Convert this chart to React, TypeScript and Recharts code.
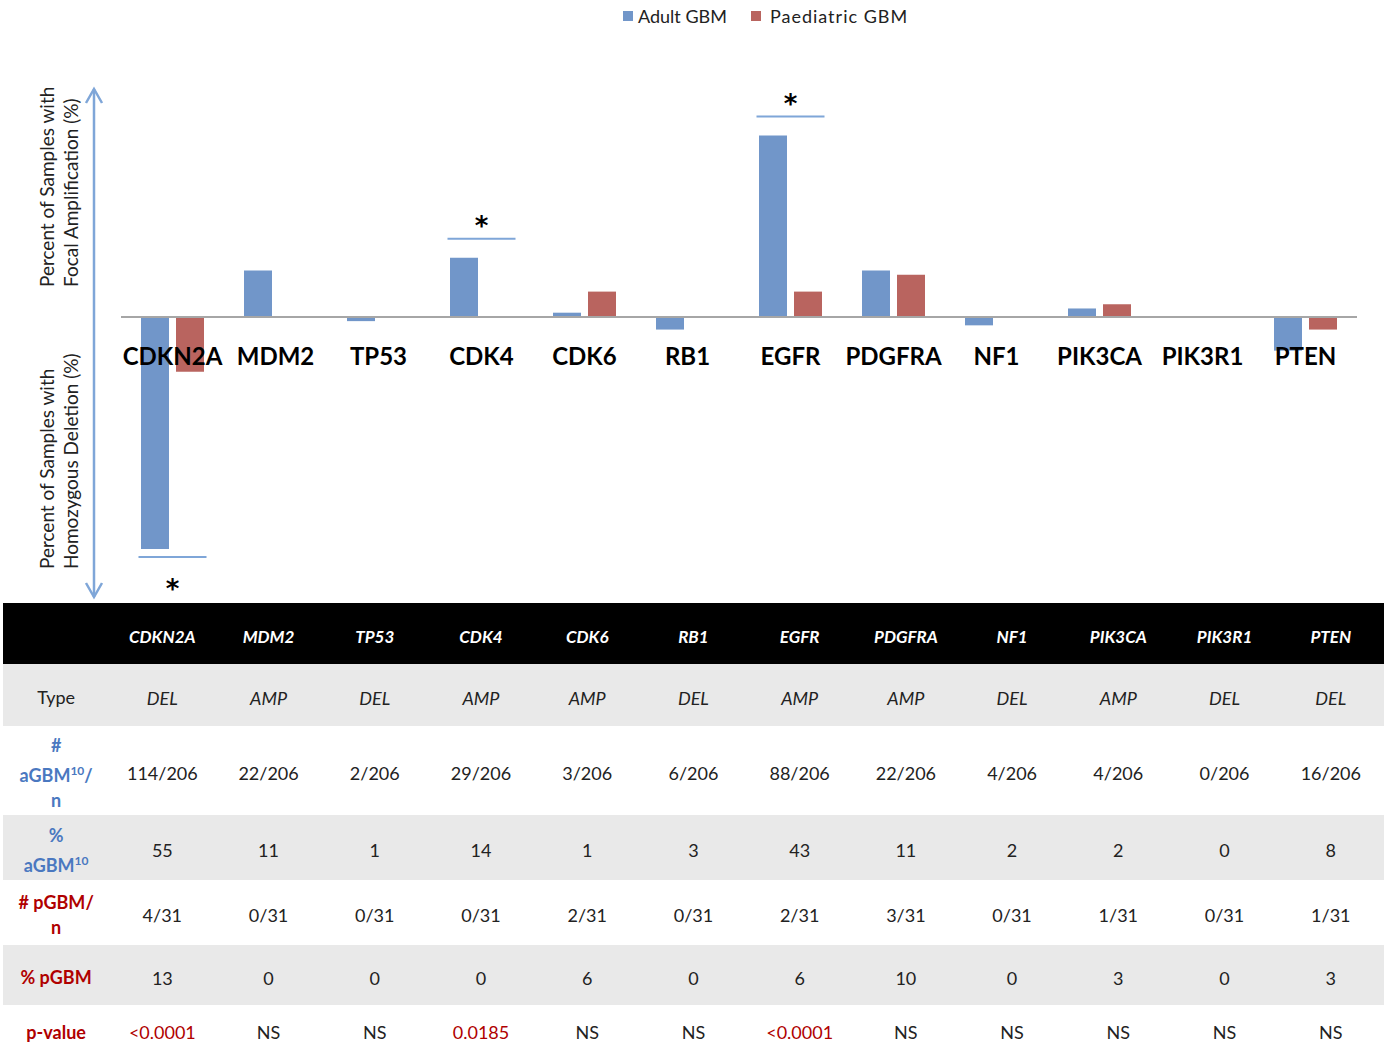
import { BarChart, Bar, XAxis, YAxis, ReferenceLine, ReferenceDot } from 'recharts'

const genes = ['CDKN2A', 'MDM2', 'TP53', 'CDK4', 'CDK6', 'RB1', 'EGFR', 'PDGFRA', 'NF1', 'PIK3CA', 'PIK3R1', 'PTEN']
const alterationType = ['DEL', 'AMP', 'DEL', 'AMP', 'AMP', 'DEL', 'AMP', 'AMP', 'DEL', 'AMP', 'DEL', 'DEL']
const adultCounts = ['114/206', '22/206', '2/206', '29/206', '3/206', '6/206', '88/206', '22/206', '4/206', '4/206', '0/206', '16/206']
const adultPct = [55, 11, 1, 14, 1, 3, 43, 11, 2, 2, 0, 8]
const paedCounts = ['4/31', '0/31', '0/31', '0/31', '2/31', '0/31', '2/31', '3/31', '0/31', '1/31', '0/31', '1/31']
const paedPct = [13, 0, 0, 0, 6, 0, 6, 10, 0, 3, 0, 3]
const pValues = ['<0.0001', 'NS', 'NS', '0.0185', 'NS', 'NS', '<0.0001', 'NS', 'NS', 'NS', 'NS', 'NS']

const series = [
  { key: 'adult', name: 'Adult GBM', color: '#7196C9' },
  { key: 'paed', name: 'Paediatric GBM', color: '#B9645F' },
]

const FONT = 'Lato, "Open Sans", sans-serif'
const ARROW = '#7FA6D8'
const BLUE_LABEL = '#4A78C0'
const RED_LABEL = '#B00000'

// deletions plot downwards, amplifications upwards
const chartData = genes.map((gene, i) => {
  const sign = alterationType[i] === 'DEL' ? -1 : 1
  return { gene, adult: sign * adultPct[i], paed: sign * paedPct[i] }
})

const GeneLabel = ({ cx, cy, gene }: any) => (
  <text x={cx} y={cy + 48} textAnchor="middle" fontFamily={FONT} fontWeight={700} fontSize={24} fill="#000">
    {gene}
  </text>
)

// bracket + asterisk above (or below) the adult bar
const SigMark = ({ cx, cy, up }: any) => {
  const ly = up ? cy - 19 : cy + 8
  const ty = up ? ly - 4 : ly + 41
  return (
    <g>
      <line x1={cx - 34} x2={cx + 34} y1={ly} y2={ly} stroke={ARROW} strokeWidth={2} />
      <text x={cx} y={ty} textAnchor="middle" fontFamily='"DejaVu Sans", sans-serif' fontWeight={700} fontSize={26} fill="#000">*</text>
    </g>
  )
}

function AxisArrow() {
  return (
    <svg width={130} height={610} style={{ position: 'absolute', left: 0, top: 0 }}>
      <line x1={94} x2={94} y1={89} y2={597} stroke={ARROW} strokeWidth={2.5} />
      <polyline points="86,103 94,89 102,103" fill="none" stroke={ARROW} strokeWidth={2.5} />
      <polyline points="86,583 94,597 102,583" fill="none" stroke={ARROW} strokeWidth={2.5} />
      <g fontFamily={FONT} fontSize={19} fill="#222">
        <text transform="translate(54,287) rotate(-90)">Percent of Samples with</text>
        <text transform="translate(78,287) rotate(-90)">Focal Amplification (%)</text>
        <text transform="translate(54,569) rotate(-90)">Percent of Samples with</text>
        <text transform="translate(78,569) rotate(-90)">Homozygous Deletion (%)</text>
      </g>
    </svg>
  )
}

const cell: any = { textAlign: 'center', verticalAlign: 'middle', padding: 0 }

function DataTable() {
  const rows = [
    { label: <>Type</>, color: '#222', bold: false, h: 62, bg: '#E9E9E9', values: alterationType, italic: true, pad: 6 },
    { label: <>#<br />aGBM<sup style={{ fontSize: 12 }}>10</sup>/<br />n</>, color: BLUE_LABEL, bold: true, h: 89, bg: '#fff', values: adultCounts, pad: 6 },
    { label: <>%<br />aGBM<sup style={{ fontSize: 12 }}>10</sup></>, color: BLUE_LABEL, bold: true, h: 65, bg: '#E9E9E9', values: adultPct.map(String), pad: 6 },
    { label: <># pGBM/<br />n</>, color: RED_LABEL, bold: true, h: 65, bg: '#fff', values: paedCounts, pad: 6 },
    { label: <>% pGBM</>, color: RED_LABEL, bold: true, h: 60, bg: '#E9E9E9', values: paedPct.map(String), pad: 6 },
    { label: <>p-value</>, color: RED_LABEL, bold: true, h: 55, bg: '#fff', values: pValues, pv: true, pad: 0 },
  ]
  return (
    <table style={{
      position: 'absolute', left: 3, top: 603, width: 1381, borderCollapse: 'collapse',
      tableLayout: 'fixed', fontFamily: FONT, fontSize: 18, color: '#222', lineHeight: '25px',
    }}>
      <tbody>
        <tr style={{ height: 61, background: '#000' }}>
          <td style={cell}></td>
          {genes.map(g => (
            <td key={g} style={{ ...cell, paddingTop: 5, color: '#fff', fontWeight: 700, fontStyle: 'italic', fontSize: 17 }}>{g}</td>
          ))}
        </tr>
        {rows.map((r, ri) => (
          <tr key={ri} style={{ height: r.h, background: r.bg }}>
            <td style={{ ...cell, paddingTop: r.pad ? 5 : 0, color: r.color, fontWeight: r.bold ? 700 : 400 }}>{r.label}</td>
            {r.values.map((v, i) => (
              <td key={i} style={{
                ...cell,
                paddingTop: r.pad,
                fontStyle: r.italic ? 'italic' : 'normal',
                color: r.pv && v !== 'NS' ? RED_LABEL : '#222',
              }}>{v}</td>
            ))}
          </tr>
        ))}
      </tbody>
    </table>
  )
}

export default function App() {
  return (
    <div style={{ position: 'fixed', left: 0, top: 0, width: 1392, height: 1047, overflow: 'hidden', background: '#fff' }}>
      {/* legend */}
      <div style={{ position: 'absolute', top: 5, left: 623, display: 'flex', gap: 24, fontFamily: FONT, fontSize: 18, color: '#222' }}>
        {series.map(s => (
          <div key={s.key} style={{ display: 'flex', alignItems: 'center', gap: s.key === 'paed' ? 9 : 5 }}>
            <div style={{ width: 10, height: 10, background: s.color }} />
            <span style={{ letterSpacing: s.key === 'paed' ? 1 : 0 }}>{s.name}</span>
          </div>
        ))}
      </div>

      <div style={{ position: 'absolute', left: 0, top: 0 }}>
        <BarChart
          width={1392}
          height={640}
          data={chartData}
          margin={{ top: 106, right: 35, bottom: 70, left: 121 }}
          barSize={28}
          barGap={7}
        >
          <XAxis dataKey="gene" hide />
          <YAxis hide domain={[-60, 50]} />
          {series.map(s => (
            <Bar key={s.key} dataKey={s.key} name={s.name} fill={s.color} isAnimationActive={false} />
          ))}
          <ReferenceLine y={0} stroke="#A6A6A6" strokeWidth={2} />
          {chartData.map(d => (
            <ReferenceDot key={`lbl-${d.gene}`} x={d.gene} y={0} r={0}
              shape={(p: any) => <GeneLabel {...p} gene={d.gene} />} />
          ))}
          {chartData.map((d, i) => pValues[i] !== 'NS' ? (
            <ReferenceDot key={`sig-${d.gene}`} x={d.gene} y={d.adult} r={0}
              shape={(p: any) => <SigMark {...p} up={d.adult > 0} />} />
          ) : null)}
        </BarChart>
      </div>

      <AxisArrow />
      <DataTable />
    </div>
  )
}
